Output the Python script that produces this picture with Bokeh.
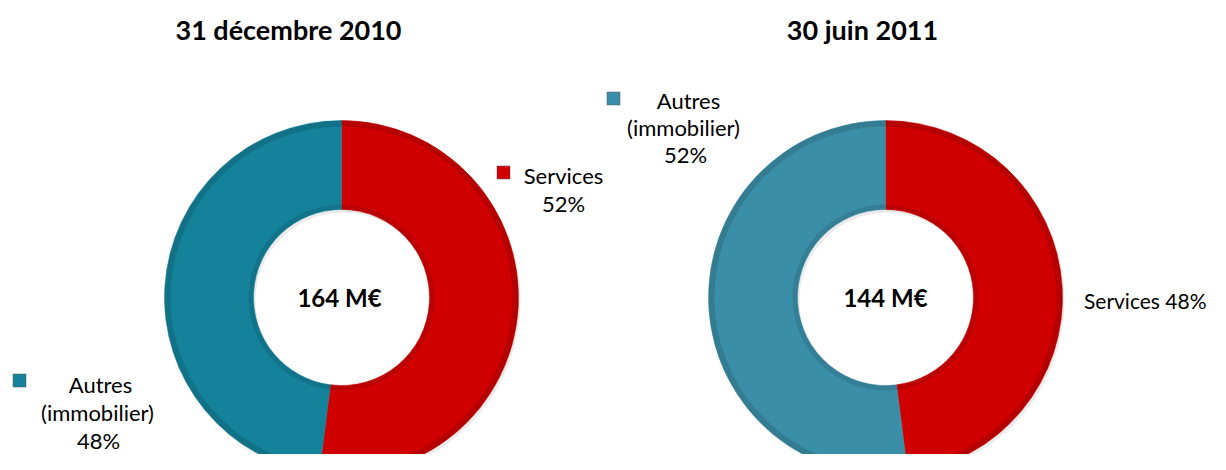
import math
from bokeh.plotting import figure
from bokeh.models import Range1d, ColumnDataSource
from bokeh.core.properties import value
from bokeh.embed import file_html
from bokeh.resources import INLINE

# ---- data ----
categories = ["Services", "Autres (immobilier)"]
pct_2010 = [52, 48]
pct_2011 = [48, 52]
totals = ["164 M€", "144 M€"]
titles = ["31 décembre 2010", "30 juin 2011"]

# ---- style ----
FONT = "Lato"
RED = "#D00000"
BLUE_L = "#14829A"
BLUE_R = "#3B8EA7"
PAGE_H = 470

W, H = 1210, 454
p = figure(width=W, height=H, output_backend="svg", toolbar_location=None,
           x_range=Range1d(0, W), y_range=Range1d(PAGE_H - H, PAGE_H),
           min_border=0, outline_line_color=None)
p.axis.visible = False
p.grid.visible = False


def Y(py):
    return PAGE_H - py


def donut(cx, cy, pcts, colors):
    starts, ends = [], []
    a = math.pi / 2
    for v in pcts:
        starts.append(a)
        a -= v / 100 * 2 * math.pi
        ends.append(a)
    src = ColumnDataSource(dict(x=[cx] * len(pcts), y=[Y(cy)] * len(pcts),
                                s=starts, e=ends, c=colors))
    # shadow
    p.annular_wedge(x=cx + 2, y=Y(cy) - 3, inner_radius=88, outer_radius=177,
                    start_angle=0, end_angle=2 * math.pi,
                    fill_color="#000000", fill_alpha=0.08, line_color=None)
    p.annular_wedge(x="x", y="y", inner_radius=88, outer_radius=177,
                    start_angle="s", end_angle="e", direction="clock",
                    fill_color="c", line_color="c", line_width=0.5, source=src)
    # bevel shading
    p.annular_wedge(x="x", y="y", inner_radius=171, outer_radius=177,
                    start_angle="s", end_angle="e", direction="clock",
                    fill_color="#000000", fill_alpha=0.12, line_color=None, source=src)
    p.annular_wedge(x="x", y="y", inner_radius=88, outer_radius=93,
                    start_angle="s", end_angle="e", direction="clock",
                    fill_color="#000000", fill_alpha=0.10, line_color=None, source=src)


donut(341, 297, pct_2010, [RED, BLUE_L])
donut(885, 297, pct_2011, [RED, BLUE_R])


def txt(x, y, s, size, bold=False, align="center"):
    p.text(x=[x], y=[Y(y)], text=[s], text_font=value(FONT),
           text_font_size=f"{size}px", text_font_style="bold" if bold else "normal",
           text_align=align, text_baseline="middle", text_color="#000000")


def marker(x, y, color):
    p.scatter(x=[x], y=[Y(y)], marker="square", size=13, fill_color=color,
              line_color="#555555", line_width=0.5)


# titles
txt(288, 29, titles[0], 27, bold=True)
txt(862, 29, titles[1], 27, bold=True)

# center totals
txt(339, 297, totals[0], 24, bold=True)
txt(885, 297, totals[1], 24, bold=True)

LS = 22
# left chart labels
marker(503, 172, RED)
txt(563, 175, categories[0], LS)
txt(563, 203, f"{pct_2010[0]}%", LS)

marker(19, 380, BLUE_L)
txt(100, 384, "Autres", LS)
txt(97, 412, "(immobilier)", LS)
txt(98, 440, f"{pct_2010[1]}%", LS)

# right chart labels
marker(613, 98, BLUE_R)
txt(688, 100, "Autres", LS)
txt(683, 127, "(immobilier)", LS)
txt(685, 154, f"{pct_2011[1]}%", LS)

txt(1206, 300, f"{categories[0]} {pct_2011[0]}%", 21, align="right")

open("out.html", "w").write(file_html(p, INLINE))
